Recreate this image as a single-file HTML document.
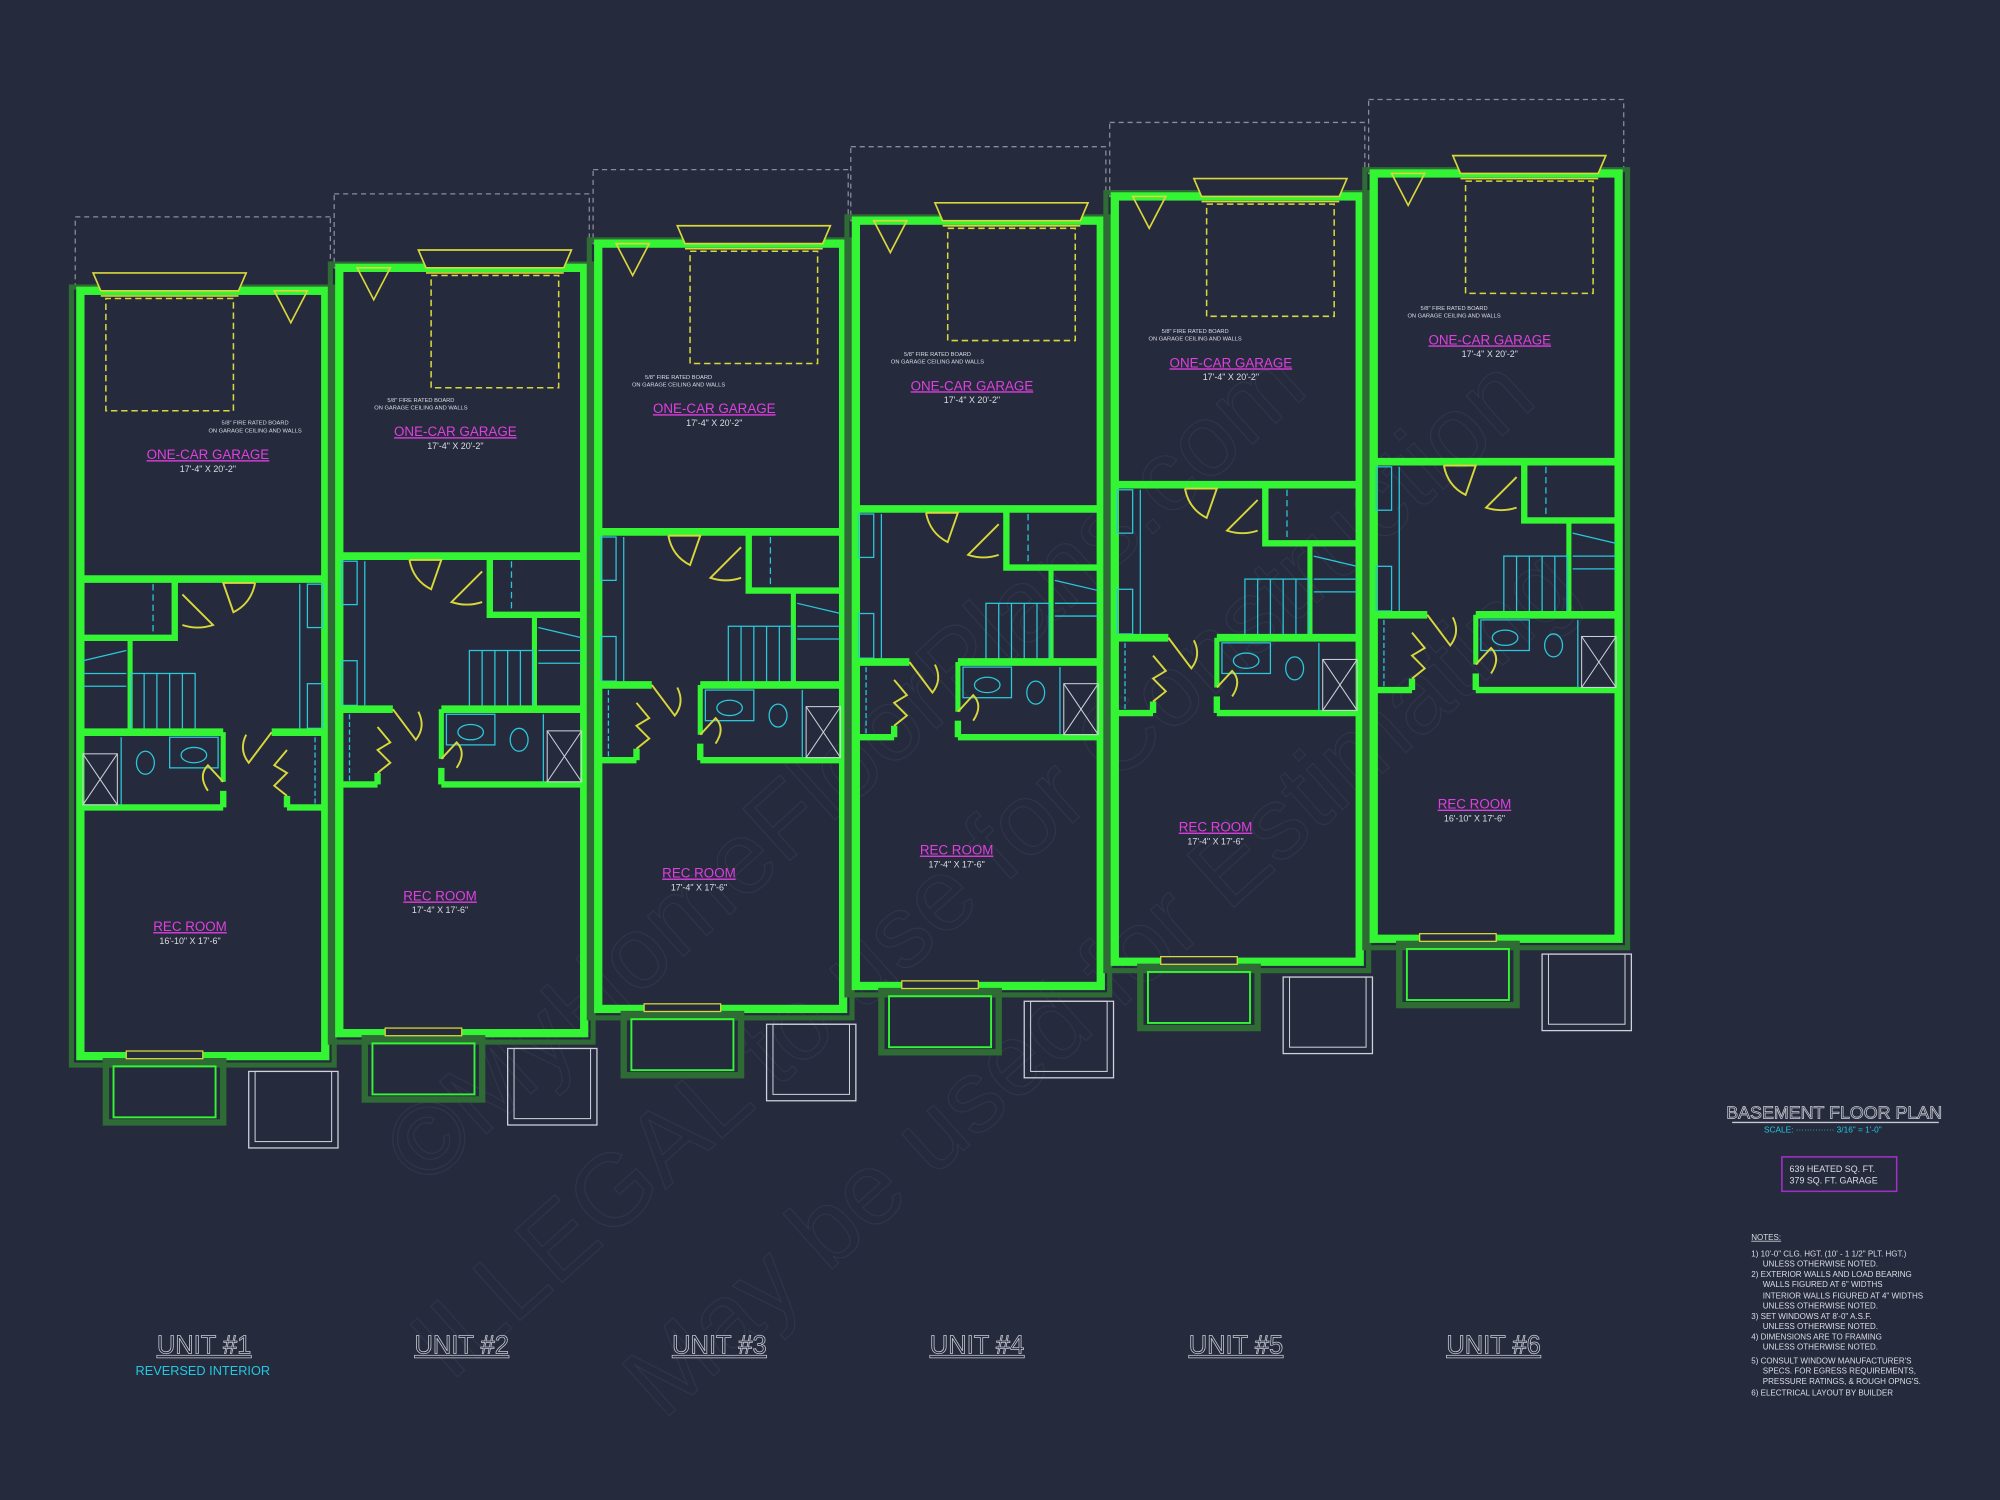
<!DOCTYPE html>
<html><head><meta charset="utf-8"><style>
html,body{margin:0;padding:0;background:#262a3d;}
svg{display:block}
text{font-family:"Liberation Sans",sans-serif;}
</style></head><body>
<svg width="2000" height="1500" viewBox="0 0 1568 1176" xmlns="http://www.w3.org/2000/svg">
<rect width="1568" height="1176" fill="#262a3d"/>
<g fill="none" stroke="#30344a" stroke-width="1" font-family="Liberation Serif" text-anchor="middle">
<text x="0" y="0" font-size="80" transform="translate(680,620) rotate(-42)">©MyHomeFloorPlans.com</text>
<text x="0" y="0" font-size="80" transform="translate(780,700) rotate(-42)">ILLEGAL to use for Construction</text>
<text x="0" y="0" font-size="80" transform="translate(880,790) rotate(-42)">May be used for Estimating</text>
</g>
<defs>
<g id="u">
  <rect x="-4" y="-58" width="200" height="58" fill="none" stroke="#8a8c98" stroke-width="1" stroke-dasharray="4,3"/>
  <rect x="-7" y="-3" width="206" height="610" fill="none" stroke="#2f6b35" stroke-width="4"/>
  <rect x="0" y="0" width="192" height="600" fill="none" stroke="#33f533" stroke-width="6.5"/>
  <path d="M62,-14 L182,-14 L176,0 L68,0 Z" fill="#262a3d" stroke="#d8d83a" stroke-width="1.3"/>
  <line x1="68" y1="4" x2="176" y2="4" stroke="#d8d83a" stroke-width="1.3"/>
  <rect x="72" y="6" width="100" height="88" fill="none" stroke="#d8d83a" stroke-width="1.2" stroke-dasharray="5,3"/>
  <path d="M14,0 L40,0 L27,25 Z" fill="none" stroke="#d8d83a" stroke-width="1.3"/>
  <line x1="0" y1="226" x2="192" y2="226" stroke="#33f533" stroke-width="6"/>
  <polyline points="118,226 118,272 192,272" fill="none" stroke="#33f533" stroke-width="5"/>
  <polyline points="153,272 153,345" fill="none" stroke="#33f533" stroke-width="4"/>
  <line x1="135" y1="230" x2="135" y2="268" stroke="#2ac8d8" stroke-width="1" stroke-dasharray="5,3"/>
  <path d="M55,229 L80,229 L72,252 Q58,245 55,229" fill="none" stroke="#d8d83a" stroke-width="1.5"/>
  <path d="M112,238 L88,262 Q100,266 112,262" fill="none" stroke="#d8d83a" stroke-width="1.5"/>
  <line x1="20" y1="230" x2="20" y2="343" stroke="#2ac8d8" stroke-width="1"/>
  <rect x="2" y="230" width="12" height="34" fill="none" stroke="#2ac8d8" stroke-width="1"/>
  <rect x="2" y="308" width="12" height="35" fill="none" stroke="#2ac8d8" stroke-width="1"/>
  <rect x="102" y="300" width="50" height="45" fill="none" stroke="#2ac8d8" stroke-width="1"/>
  <line x1="112" y1="300" x2="112" y2="345" stroke="#2ac8d8" stroke-width="1"/>
  <line x1="122" y1="300" x2="122" y2="345" stroke="#2ac8d8" stroke-width="1"/>
  <line x1="132" y1="300" x2="132" y2="345" stroke="#2ac8d8" stroke-width="1"/>
  <line x1="142" y1="300" x2="142" y2="345" stroke="#2ac8d8" stroke-width="1"/>
  <line x1="156" y1="282" x2="190" y2="290" stroke="#2ac8d8" stroke-width="1"/>
  <line x1="156" y1="300" x2="190" y2="300" stroke="#2ac8d8" stroke-width="1"/>
  <line x1="156" y1="310" x2="190" y2="310" stroke="#2ac8d8" stroke-width="1"/>
  <line x1="0" y1="346" x2="42" y2="346" stroke="#33f533" stroke-width="6"/>
  <line x1="80" y1="346" x2="192" y2="346" stroke="#33f533" stroke-width="6"/>
  <line x1="80" y1="346" x2="80" y2="385" stroke="#33f533" stroke-width="4"/>
  <line x1="0" y1="405" x2="30" y2="405" stroke="#33f533" stroke-width="5"/>
  <line x1="30" y1="396" x2="30" y2="405" stroke="#33f533" stroke-width="5"/>
  <line x1="80" y1="405" x2="192" y2="405" stroke="#33f533" stroke-width="5"/>
  <line x1="80" y1="392" x2="80" y2="405" stroke="#33f533" stroke-width="5"/>
  <rect x="84" y="350" width="38" height="24" fill="none" stroke="#2ac8d8" stroke-width="1"/>
  <ellipse cx="103" cy="364" rx="10" ry="6" fill="none" stroke="#2ac8d8" stroke-width="1"/>
  <ellipse cx="141" cy="370" rx="7" ry="9" fill="none" stroke="#2ac8d8" stroke-width="1"/>
  <rect x="163" y="363" width="27" height="40" fill="none" stroke="#cfd2da" stroke-width="0.8"/>
  <line x1="163" y1="363" x2="190" y2="403" stroke="#cfd2da" stroke-width="0.8"/>
  <line x1="190" y1="363" x2="163" y2="403" stroke="#cfd2da" stroke-width="0.8"/>
  <line x1="160" y1="350" x2="160" y2="403" stroke="#2ac8d8" stroke-width="1"/>
  <path d="M42,346 L60,370 Q68,360 62,348" fill="none" stroke="#d8d83a" stroke-width="1.5"/>
  <path d="M30,360 L40,372 L30,378 L40,388 L30,396" fill="none" stroke="#d8d83a" stroke-width="1.5"/>
  <path d="M80,385 L92,372 Q100,380 92,392" fill="none" stroke="#d8d83a" stroke-width="1.5"/>
  <line x1="8" y1="350" x2="8" y2="402" stroke="#2ac8d8" stroke-width="1" stroke-dasharray="4,2"/>
</g>
<g id="ww">
  <rect x="20" y="604" width="92" height="48" fill="none" stroke="#2f6b35" stroke-width="5"/>
  <rect x="26" y="608" width="80" height="40" fill="none" stroke="#33f533" stroke-width="1.5"/>
  <rect x="36" y="596" width="60" height="6" fill="#262a3d" stroke="#d8d83a" stroke-width="1"/>
  <rect x="132" y="612" width="70" height="60" fill="none" stroke="#cfd2da" stroke-width="1"/>
  <rect x="137" y="612" width="60" height="55" fill="none" stroke="#cfd2da" stroke-width="0.8"/>
</g>
</defs>
<use href="#u" transform="translate(255,228) scale(-1,1)"/>
<use href="#ww" x="63" y="228"/>
<use href="#u" x="266" y="210"/>
<use href="#ww" x="266" y="210"/>
<use href="#u" x="469" y="191"/>
<use href="#ww" x="469" y="191"/>
<use href="#u" x="671" y="173"/>
<use href="#ww" x="671" y="173"/>
<use href="#u" x="874" y="154"/>
<use href="#ww" x="874" y="154"/>
<use href="#u" x="1077" y="136"/>
<use href="#ww" x="1077" y="136"/>
<g font-size="10.5" fill="#e040e0" text-decoration="underline" text-anchor="middle">
<text x="163" y="360">ONE-CAR GARAGE</text>
<text x="357" y="342">ONE-CAR GARAGE</text>
<text x="560" y="324">ONE-CAR GARAGE</text>
<text x="762" y="306">ONE-CAR GARAGE</text>
<text x="965" y="288">ONE-CAR GARAGE</text>
<text x="1168" y="270">ONE-CAR GARAGE</text>
<text x="149" y="730">REC ROOM</text>
<text x="345" y="706">REC ROOM</text>
<text x="548" y="688">REC ROOM</text>
<text x="750" y="670">REC ROOM</text>
<text x="953" y="652">REC ROOM</text>
<text x="1156" y="634">REC ROOM</text>
</g>
<g font-size="7" fill="#dcdde3" text-anchor="middle">
<text x="163" y="370">17'-4" X 20'-2"</text>
<text x="357" y="352">17'-4" X 20'-2"</text>
<text x="560" y="334">17'-4" X 20'-2"</text>
<text x="762" y="316">17'-4" X 20'-2"</text>
<text x="965" y="298">17'-4" X 20'-2"</text>
<text x="1168" y="280">17'-4" X 20'-2"</text>
<text x="149" y="740">16'-10" X 17'-6"</text>
<text x="345" y="716">17'-4" X 17'-6"</text>
<text x="548" y="698">17'-4" X 17'-6"</text>
<text x="750" y="680">17'-4" X 17'-6"</text>
<text x="953" y="662">17'-4" X 17'-6"</text>
<text x="1156" y="644">16'-10" X 17'-6"</text>
</g>
<g font-size="4.5" fill="#dcdde3" text-anchor="middle">
<text x="200" y="333">5/8" FIRE RATED BOARD</text><text x="200" y="339">ON GARAGE CEILING AND WALLS</text>
<text x="330" y="315">5/8" FIRE RATED BOARD</text><text x="330" y="321">ON GARAGE CEILING AND WALLS</text>
<text x="532" y="297">5/8" FIRE RATED BOARD</text><text x="532" y="303">ON GARAGE CEILING AND WALLS</text>
<text x="735" y="279">5/8" FIRE RATED BOARD</text><text x="735" y="285">ON GARAGE CEILING AND WALLS</text>
<text x="937" y="261">5/8" FIRE RATED BOARD</text><text x="937" y="267">ON GARAGE CEILING AND WALLS</text>
<text x="1140" y="243">5/8" FIRE RATED BOARD</text><text x="1140" y="249">ON GARAGE CEILING AND WALLS</text>
</g>
<g font-size="20" fill="none" stroke="#c8cad2" stroke-width="0.6" text-anchor="middle" text-decoration="underline">
<text x="160" y="1061">UNIT #1</text>
<text x="362" y="1061">UNIT #2</text>
<text x="564" y="1061">UNIT #3</text>
<text x="766" y="1061">UNIT #4</text>
<text x="969" y="1061">UNIT #5</text>
<text x="1171" y="1061">UNIT #6</text>
</g>
<text x="159" y="1078" font-size="10" fill="#22c8e0" text-anchor="middle">REVERSED INTERIOR</text>
<text x="1438" y="877" font-size="14" fill="none" stroke="#c8cad2" stroke-width="0.6" text-anchor="middle">BASEMENT FLOOR PLAN</text>
<line x1="1358" y1="880" x2="1520" y2="880" stroke="#c8cad2" stroke-width="1"/>
<text x="1383" y="888" font-size="6.5" fill="#22c8e0">SCALE: ·············· 3/16" = 1'-0"</text>
<rect x="1397" y="907" width="90" height="27" fill="none" stroke="#a030c8" stroke-width="1.2"/>
<text x="1403" y="919" font-size="7" fill="#dcdde3">639 HEATED SQ. FT.</text>
<text x="1403" y="928" font-size="7" fill="#dcdde3">379 SQ. FT. GARAGE</text>
<g font-size="6.3" fill="#dcdde3">
<text x="1373" y="972" text-decoration="underline">NOTES:</text>
<text x="1373" y="985">1) 10'-0"  CLG. HGT. (10' - 1 1/2" PLT. HGT.)</text>
<text x="1382" y="993">UNLESS OTHERWISE NOTED.</text>
<text x="1373" y="1001">2) EXTERIOR WALLS AND LOAD BEARING</text>
<text x="1382" y="1009">WALLS FIGURED AT 6" WIDTHS</text>
<text x="1382" y="1018">INTERIOR WALLS FIGURED AT 4" WIDTHS</text>
<text x="1382" y="1026">UNLESS OTHERWISE NOTED.</text>
<text x="1373" y="1034">3) SET WINDOWS AT 8'-0" A.S.F.</text>
<text x="1382" y="1042">UNLESS OTHERWISE NOTED.</text>
<text x="1373" y="1050">4) DIMENSIONS ARE TO FRAMING</text>
<text x="1382" y="1058">UNLESS OTHERWISE NOTED.</text>
<text x="1373" y="1069">5) CONSULT WINDOW MANUFACTURER'S</text>
<text x="1382" y="1077">SPECS. FOR EGRESS REQUIREMENTS,</text>
<text x="1382" y="1085">PRESSURE RATINGS, &amp; ROUGH OPNG'S.</text>
<text x="1373" y="1094">6) ELECTRICAL LAYOUT BY BUILDER</text>
</g>
</svg>
</body></html>
